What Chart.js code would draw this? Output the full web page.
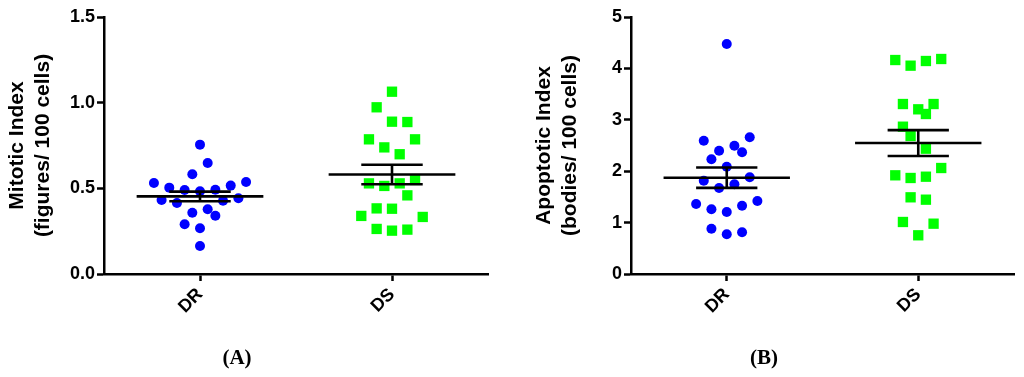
<!DOCTYPE html>
<html><head><meta charset="utf-8">
<script src="https://cdn.jsdelivr.net/npm/chart.js@4.4.0/dist/chart.umd.min.js"></script>
<style>
html,body{margin:0;padding:0;background:#fff;width:1024px;height:377px;overflow:hidden;}
.wrap{position:absolute;top:0;width:512px;height:377px;}
.lbl{position:absolute;font-family:"Liberation Serif","Times New Roman",serif;font-weight:bold;font-size:21px;line-height:24px;color:#000;transform:translateX(-50%);top:345px;}
</style></head><body>
<div class="wrap" style="left:0"><canvas id="cA" width="512" height="377"></canvas></div>
<div class="wrap" style="left:512px"><canvas id="cB" width="512" height="377"></canvas></div>
<div class="lbl" style="left:237px">(A)</div>
<div class="lbl" style="left:764px">(B)</div>
<script>
const categories = ['DR', 'DS'];

// Panel A: Mitotic Index (figures/ 100 cells)
const mitoticDR = [0.755,0.648,0.582,0.531,0.537,0.504,0.490,0.483,0.492,0.516,0.432,0.414,0.428,0.442,0.358,0.378,0.340,0.290,0.267,0.163];
const mitoticDRJitter = [0,1,-1,-6,6,-4,-2,0,2,4,-5,-3,3,5,-1,1,2,-2,0,0];
const mitoticDS = [1.064,0.973,0.889,0.887,0.786,0.786,0.739,0.699,0.529,0.514,0.529,0.549,0.459,0.383,0.381,0.339,0.333,0.263,0.253,0.259];
const mitoticDSJitter = [0,-2,0,2,-3,3,-1,1,-3,-1,1,3,2,-2,0,-4,4,-2,0,2];
const mitoticMean = [0.453, 0.581];
const mitoticSEM = [0.028, 0.057];
const mitoticTicks = [0, 0.5, 1.0, 1.5];

// Panel B: Apoptotic Index (bodies/ 100 cells)
const apoptoticDR = [4.475,2.593,2.659,2.399,2.496,2.367,2.231,2.088,1.816,1.881,1.673,1.745,1.362,1.258,1.206,1.329,1.420,0.882,0.772,0.811];
const apoptoticDRJitter = [0,-3,3,-1,1,2,-2,0,-3,3,-1,1,-4,-2,0,2,4,-2,0,2];
const apoptoticDS = [4.163,4.053,4.144,4.183,3.307,3.204,3.307,3.113,2.866,2.685,2.438,2.062,1.920,1.868,1.893,1.492,1.446,1.012,0.979,0.753];
const apoptoticDSJitter = [-3,-1,1,3,-2,0,2,1,-2,-1,1,3,-3,-1,1,-1,1,-2,2,0];
const apoptoticMean = [1.874, 2.548];
const apoptoticSEM = [0.199, 0.252];
const apoptoticTicks = [0, 1, 2, 3, 4, 5];

const FONT = "'Liberation Sans', Arial, sans-serif";

function makeChart(id, c) {
  const J = 0.04;
  const datasets = [];
  c.means.forEach((m, i) => {
    const x = i + 0.5, s = c.sems[i];
    const segs = [
      [[x - 0.33, m], [x + 0.33, m]],
      [[x - 0.16, m + s], [x + 0.16, m + s]],
      [[x - 0.16, m - s], [x + 0.16, m - s]],
      [[x, m - s], [x, m + s]]
    ];
    segs.forEach(seg => datasets.push({
      type: 'line', data: seg.map(p => ({x: p[0], y: p[1]})),
      borderColor: '#000', borderWidth: 2.6, pointRadius: 0, showLine: true,
      fill: false, order: 0, borderCapStyle: 'butt'
    }));
  });
  datasets.push({
    data: c.dr.map((v, k) => ({x: 0.5 + c.drJ[k] * J, y: v})),
    pointStyle: 'circle', pointRadius: 5, backgroundColor: '#0000ff',
    borderWidth: 0, pointBorderWidth: 0, showLine: false, order: 1
  });
  datasets.push({
    data: c.ds.map((v, k) => ({x: 1.5 + c.dsJ[k] * J, y: v})),
    pointStyle: 'rect', pointRadius: 7.3, backgroundColor: '#00ff00',
    borderWidth: 0, pointBorderWidth: 0, showLine: false, order: 1
  });

  return new Chart(document.getElementById(id), {
    type: 'scatter',
    data: { datasets },
    options: {
      responsive: false, animation: false, devicePixelRatio: 1,
      layout: { padding: { left: 0, right: c.padRight, top: 17, bottom: 0 } },
      plugins: { legend: { display: false }, tooltip: { enabled: false } },
      scales: {
        x: {
          type: 'linear', min: 0, max: 2,
          afterBuildTicks: s => { s.ticks = [{value: 0.5}, {value: 1.5}]; },
          afterFit: s => { s.height = 103; },
          ticks: {
            autoSkip: false, minRotation: 45, maxRotation: 45, padding: 3,
            color: '#000', font: { family: FONT, weight: 'bold', size: 18 },
            callback: v => categories[Math.round(v - 0.5)]
          },
          grid: { display: true, drawOnChartArea: false, drawTicks: true, tickLength: 7, tickColor: '#000', tickWidth: 2.5 },
          border: { display: true, color: '#000', width: 2.5 }
        },
        y: {
          type: 'linear', min: c.ticks[0], max: c.ticks[c.ticks.length - 1],
          afterBuildTicks: s => { s.ticks = c.ticks.map(v => ({value: v})); },
          afterFit: s => { s.width = c.yWidth; },
          ticks: {
            padding: 2, color: '#000', font: { family: FONT, weight: 'bold', size: 18 },
            callback: v => c.fmt(v)
          },
          grid: { display: true, drawOnChartArea: false, drawTicks: true, tickLength: 7, tickColor: '#000', tickWidth: 2.5 },
          border: { display: true, color: '#000', width: 2.5 },
          title: {
            display: true, text: c.title, color: '#000',
            font: { family: FONT, weight: 'bold', size: 21, lineHeight: 1.2 },
            padding: { top: c.titlePad, bottom: 0 }
          }
        }
      }
    }
  });
}

makeChart('cA', {
  dr: mitoticDR, drJ: mitoticDRJitter, ds: mitoticDS, dsJ: mitoticDSJitter,
  means: mitoticMean, sems: mitoticSEM, ticks: mitoticTicks,
  fmt: v => v.toFixed(1), yWidth: 104, padRight: 24, titlePad: 5,
  title: ['Mitotic Index', '(figures/ 100 cells)']
});
makeChart('cB', {
  dr: apoptoticDR, drJ: apoptoticDRJitter, ds: apoptoticDS, dsJ: apoptoticDSJitter,
  means: apoptoticMean, sems: apoptoticSEM, ticks: apoptoticTicks,
  fmt: v => String(v), yWidth: 119, padRight: 10, titlePad: 20,
  title: ['Apoptotic Index', '(bodies/ 100 cells)']
});
</script>
</body></html>
